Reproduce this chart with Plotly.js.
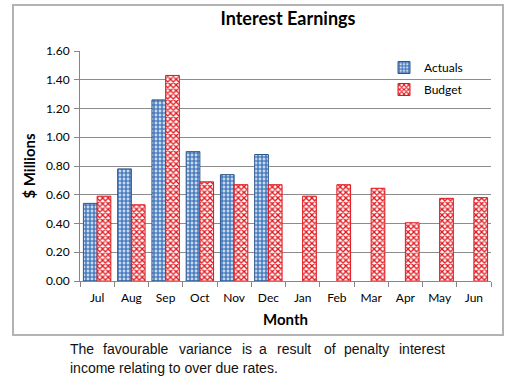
<!DOCTYPE html>
<html>
<head>
<meta charset="utf-8">
<script src="https://cdn.plot.ly/plotly-3.0.1.min.js"></script>
<style>
html,body{margin:0;padding:0;background:#fff;}
#chart{width:513px;height:380px;}
</style>
</head>
<body>
<div id="chart"></div>
<script>
const months = ["Jul","Aug","Sep","Oct","Nov","Dec","Jan","Feb","Mar","Apr","May","Jun"];
const actuals = [0.54,0.78,1.26,0.90,0.74,0.88,null,null,null,null,null,null];
const budget = [0.59,0.53,1.43,0.69,0.67,0.67,0.59,0.67,0.645,0.405,0.575,0.58];
const yTicks = [0,0.2,0.4,0.6,0.8,1.0,1.2,1.4,1.6];
const line1Words = ["The","favourable","variance","is","a","result","of","penalty","interest"];
const line2Text = "income relating to over due rates.";

const L = 80, R = 491, T = 51, B = 281, W = 513, H = 380;
const px = x => (x - L) / (R - L);
const py = y => (B - y) / (B - T);

const fontFam = "Lato, 'Liberation Sans', sans-serif";
const tickFont = {family: fontFam, size: 12, color: "#000"};

const traces = [
  {
    type: "bar", name: "Actuals", x: months, y: actuals,
    marker: {
      color: "#ffffff",
      line: {color: "#2F5689", width: 1},
      pattern: {shape: ".", fgcolor: "#4A7EC0", bgcolor: "#ffffff", size: 4, solidity: 0.72, fillmode: "replace"}
    },
    legend: "legend",
    hoverinfo: "skip"
  },
  {
    type: "bar", name: "Budget", x: months, y: budget,
    marker: {
      color: "#ffffff",
      line: {color: "#E0161C", width: 1},
      pattern: {shape: "x", fgcolor: "#E0161C", bgcolor: "#ffffff", size: 4, solidity: 0.55, fillmode: "replace"}
    },
    legend: "legend2",
    hoverinfo: "skip"
  }
];

// paragraph word positions (justified first line)
const wordX = [68,101,177,240,257,275,322,342,397];
const paraFont = {family: "'Liberation Sans', Arial, sans-serif", size: 14, color: "#111"};
const annotations = line1Words.map((w, i) => ({
  xref: "paper", yref: "paper", x: px(wordX[i]), y: py(349),
  xanchor: "left", yanchor: "middle", showarrow: false, text: w, font: paraFont
}));
annotations.push({
  xref: "paper", yref: "paper", x: px(68), y: py(368),
  xanchor: "left", yanchor: "middle", showarrow: false, text: line2Text, font: paraFont
});

const layout = {
  width: W, height: H,
  margin: {l: L, r: W - R, t: T, b: H - B, pad: 0},
  paper_bgcolor: "#fff", plot_bgcolor: "#fff",
  showlegend: true,
  bargap: 0.2, bargroupgap: 0, barmode: "group",
  title: {
    text: "<b>Interest Earnings</b>",
    x: px(288), xref: "paper", xanchor: "center",
    y: 1 - 19 / H, yref: "container", yanchor: "middle",
    font: {family: fontFam, size: 18, color: "#000"}
  },
  xaxis: {
    type: "category", tickson: "boundaries",
    ticks: "outside", ticklen: 5, tickcolor: "#868686",
    showline: true, linecolor: "#868686", linewidth: 1,
    showgrid: false, tickfont: tickFont, ticklabelstandoff: 6,
    title: {text: "<b>Month</b>", standoff: 10, font: {family: fontFam, size: 15, color: "#000"}},
    fixedrange: true
  },
  yaxis: {
    range: [0, 1.6], tickvals: yTicks, tickformat: ".2f",
    ticks: "outside", ticklen: 5, tickcolor: "#868686",
    showline: true, linecolor: "#868686", linewidth: 1,
    showgrid: true, gridcolor: "#8C8C8C", gridwidth: 1,
    zeroline: false, tickfont: tickFont, ticklabelstandoff: 2,
    title: {text: "<b>$ Millions</b>", standoff: 6, font: {family: fontFam, size: 15, color: "#000"}},
    fixedrange: true
  },
  legend: {
    x: px(384), y: py(53), xanchor: "left", yanchor: "top",
    bgcolor: "rgba(0,0,0,0)", font: {family: fontFam, size: 12, color: "#000"},
    itemwidth: 30
  },
  legend2: {
    x: px(384), y: py(75), xanchor: "left", yanchor: "top",
    bgcolor: "rgba(0,0,0,0)", font: {family: fontFam, size: 12, color: "#000"},
    itemwidth: 30
  },
  shapes: [
    {type: "rect", xref: "paper", yref: "paper",
     x0: px(13), x1: px(503), y0: py(335), y1: py(5),
     line: {color: "#B3B3B3", width: 2}, fillcolor: "rgba(0,0,0,0)", layer: "below"}
  ],
  annotations: annotations
};

Plotly.newPlot("chart", traces, layout, {displayModeBar: false, staticPlot: true});
</script>
</body>
</html>
